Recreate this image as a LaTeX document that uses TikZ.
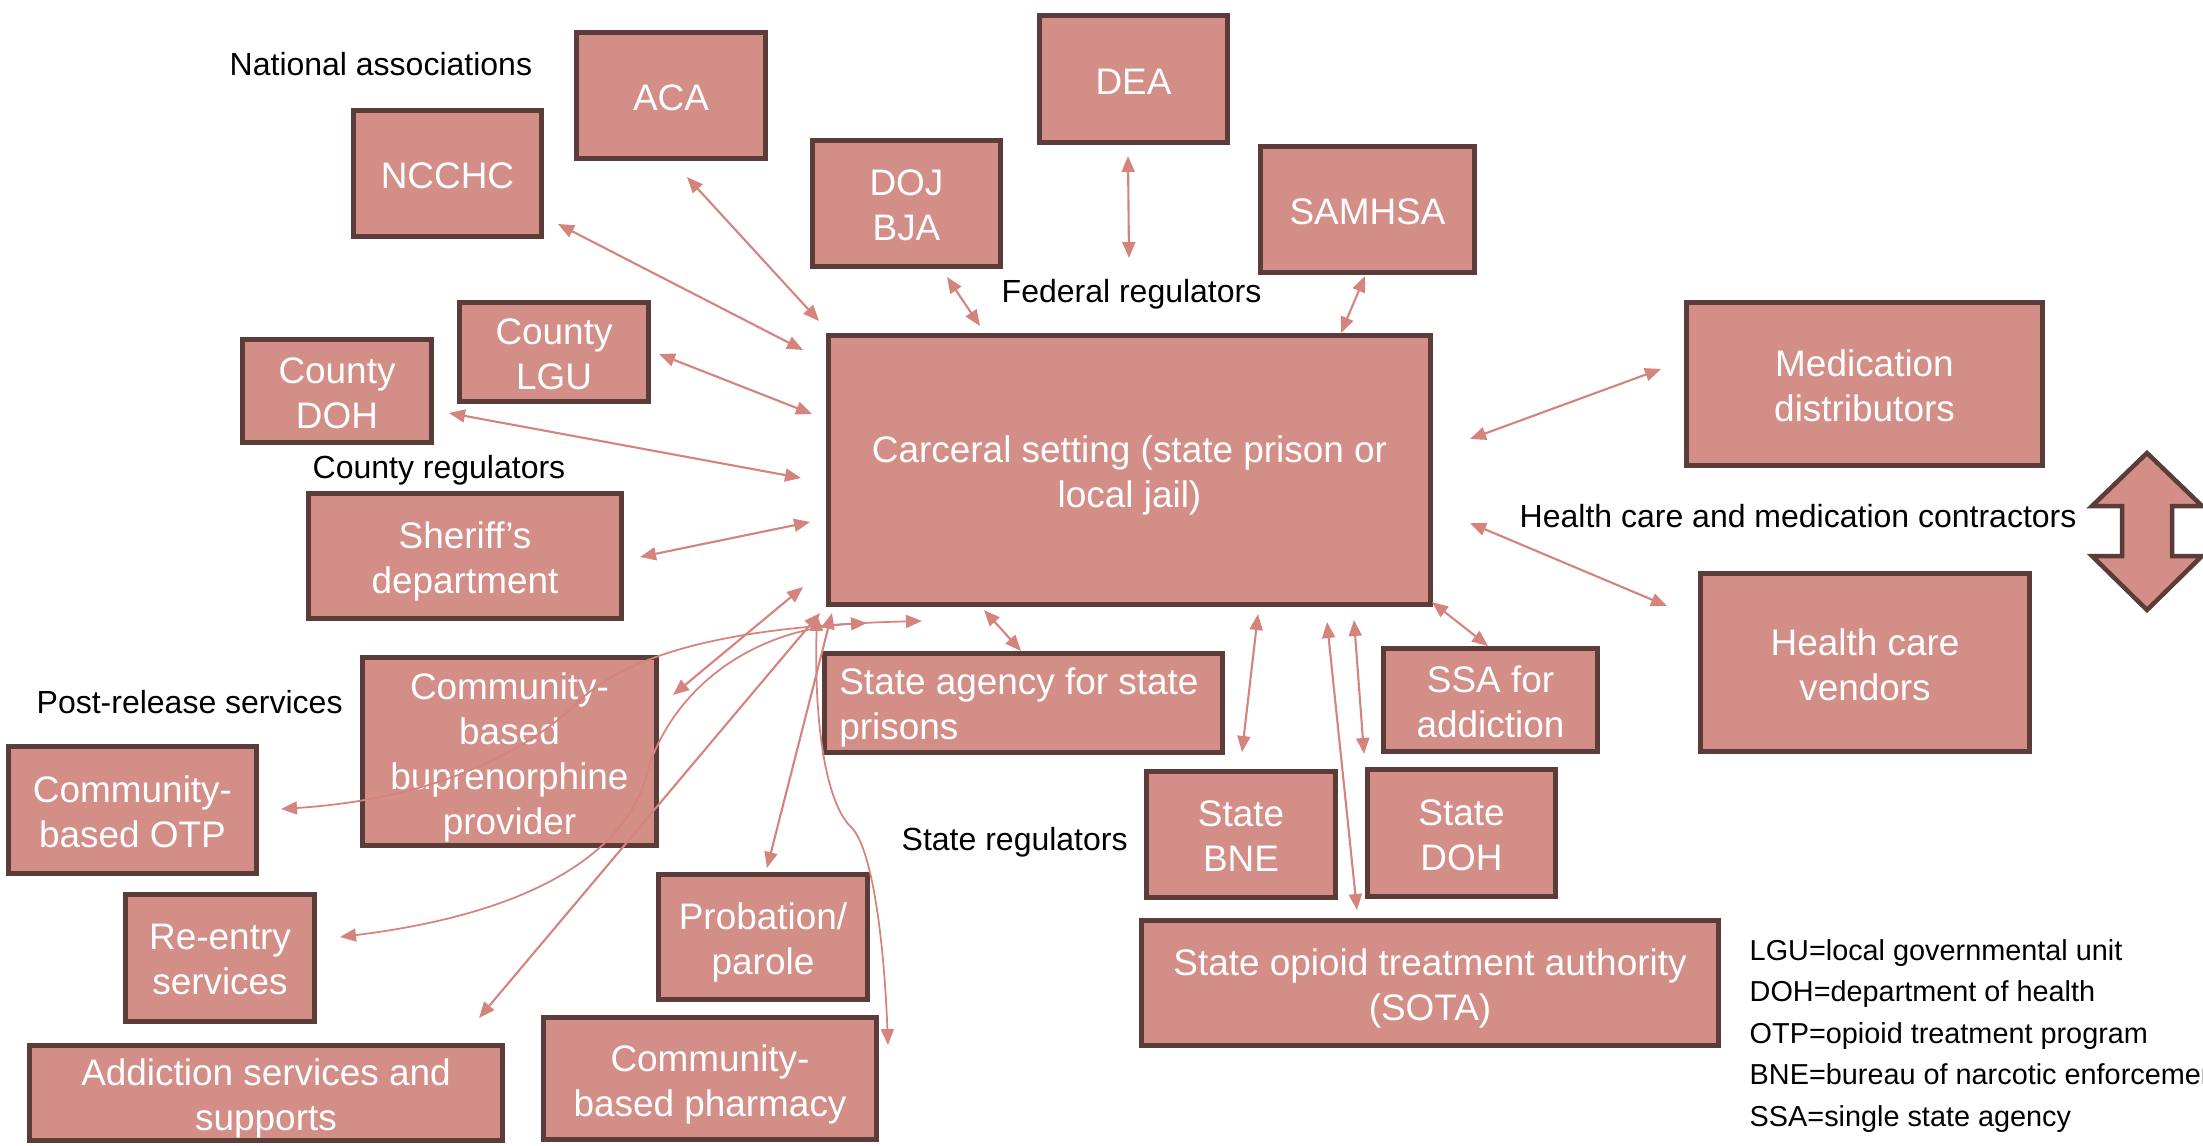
\documentclass[tikz,border=0pt]{standalone}
\usepackage{fontspec}
\setmainfont{Liberation Sans}
\usetikzlibrary{arrows.meta}
\definecolor{boxfill}{RGB}{211,142,135}
\definecolor{boxline}{RGB}{92,60,57}
\definecolor{arrowc}{RGB}{212,132,124}
\newcommand\bxfont{\fontsize{10.5}{12.8}\selectfont}
\newcommand\lbfont{\fontsize{9.1}{11}\selectfont}
\newcommand\lgfont{\fontsize{8.2}{11.8}\selectfont}
\tikzset{
  box/.style={draw=boxline, fill=boxfill, line width=0.055cm, inner sep=0pt},
  bx/.style 2 args={box, minimum width=#1, minimum height=#2},
  btext/.style={text=white, font=\bxfont, align=center, inner sep=0pt, execute at end node={\vphantom{(}}},
  lab/.style={font=\lbfont, text=black, anchor=base west, inner sep=0pt},
  leg/.style={font=\lgfont, text=black, anchor=base west, inner sep=0pt},
  conn/.style={draw=arrowc, line width=0.6pt, {Triangle[length=0.16cm,width=0.13cm]}-{Triangle[length=0.16cm,width=0.13cm]}},
  cconn/.style={conn, line width=0.5pt},
}
% box: width, height, name, position, text
\newcommand\bbox[5]{%
  \node[bx={#1}{#2}] (#3) at #4 {};
  \node[btext] (#3-t) at ([yshift=-0.055cm]#3.center) {#5};}
\begin{document}
\begin{tikzpicture}[x=0.01cm, y=-0.01cm]
\useasboundingbox (0,0) rectangle (2203,1145);
% boxes
\bbox{1.89cm}{1.26cm}{aca}{(671,95.5)}{ACA}
\bbox{1.88cm}{1.26cm}{ncchc}{(447.5,173.5)}{NCCHC}
\bbox{1.88cm}{1.27cm}{dea}{(1133.5,79)}{DEA}
\bbox{1.88cm}{1.26cm}{doj}{(906.5,203.5)}{DOJ\\BJA}
\bbox{2.14cm}{1.26cm}{samhsa}{(1367.5,209.5)}{SAMHSA}
\bbox{6.02cm}{2.69cm}{carc}{(1129.5,470)}{Carceral setting (state prison or\\local jail)}
\bbox{3.56cm}{1.63cm}{med}{(1864.5,384)}{Medication\\distributors}
\bbox{3.29cm}{1.78cm}{hcv}{(1865,662.5)}{Health care\\vendors}
\bbox{1.89cm}{0.99cm}{lgu}{(554,352)}{County\\LGU}
\bbox{1.89cm}{1.03cm}{cdoh}{(337,391)}{County\\DOH}
\bbox{3.13cm}{1.25cm}{sher}{(465,556)}{Sheriff’s\\department}
\bbox{2.94cm}{1.88cm}{bupe}{(509.5,751.5)}{Community-\\based\\buprenorphine\\provider}
\bbox{2.48cm}{1.27cm}{otp}{(132.5,810)}{Community-\\based OTP}
\bbox{1.89cm}{1.27cm}{reent}{(220,958)}{Re-entry\\services}
\bbox{4.73cm}{0.95cm}{addict}{(266,1093)}{Addiction services and\\supports}
\bbox{2.09cm}{1.25cm}{prob}{(763,937)}{Probation/\\parole}
\bbox{3.33cm}{1.22cm}{pharm}{(710,1078.5)}{Community-\\based pharmacy}
\node[bx={3.98cm}{0.99cm}] (sagency) at (1023.5,703) {};
\node[btext, align=left, anchor=west] (sagency-t) at ([xshift=0.17cm, yshift=-0.04cm]sagency.west) {State agency for state\\prisons};
\bbox{2.14cm}{1.03cm}{ssa}{(1490.5,700)}{SSA for\\addiction}
\bbox{1.89cm}{1.26cm}{bne}{(1241,834.5)}{State\\BNE}
\bbox{1.88cm}{1.27cm}{sdoh}{(1461.5,833)}{State\\DOH}
\bbox{5.77cm}{1.25cm}{sota}{(1430,983)}{State opioid treatment authority\\(SOTA)}
% big double arrow
\draw[boxline, fill=boxfill, line width=0.045cm, line join=miter]
  (2147,453) -- (2202,506) -- (2172,506) -- (2172,556) -- (2202,556) -- (2147,610)
  -- (2092,556) -- (2122,556) -- (2122,506) -- (2092,506) -- cycle;
% labels
\node[lab] (lnat) at (229,75) {National associations};
\node[lab] (lfed) at (1001,302) {Federal regulators};
\node[lab] (lcty) at (312,478) {County regulators};
\node[lab] (lhc) at (1519,527) {Health care and medication contractors};
\node[lab] (lpost) at (36,713) {Post-release services};
\node[lab] (lstate) at (901,850) {State regulators};
\node[leg] (g1) at (1749,960) {LGU=local governmental unit};
\node[leg] (g2) at (1749,1001.5) {DOH=department of health};
\node[leg] (g3) at (1749,1043) {OTP=opioid treatment program};
\node[leg] (g4) at (1749,1084) {BNE=bureau of narcotic enforcement};
\node[leg] (g5) at (1749,1126) {SSA=single state agency};
% connector end points
\coordinate (a1) at (558,224);  \coordinate (b1) at (803,350);
\coordinate (a2) at (687,177);  \coordinate (b2) at (819,321);
\coordinate (a3) at (947,277);  \coordinate (b3) at (980,326);
\coordinate (a4) at (1128,156); \coordinate (b4) at (1129,258);
\coordinate (a5) at (1365,276); \coordinate (b5) at (1341,333);
\coordinate (a6) at (1661,369); \coordinate (b6) at (1470,439);
\coordinate (a7) at (1470,523); \coordinate (b7) at (1667,606);
\coordinate (a8) at (659,354);  \coordinate (b8) at (812,414);
\coordinate (a9) at (449,413);  \coordinate (b9) at (801,478);
\coordinate (a10) at (640,557); \coordinate (b10) at (810,522);
\coordinate (a11) at (1432,602); \coordinate (b11) at (1488,646);
\coordinate (a12) at (1258,614); \coordinate (b12) at (1242,752);
\coordinate (a13) at (1354,620); \coordinate (b13) at (1364,754);
\coordinate (a14) at (1327,622); \coordinate (b14) at (1357,910);
\coordinate (a15) at (984,610);  \coordinate (b15) at (1021,651);
\coordinate (a16) at (673,695);  \coordinate (b16) at (803,587);
\coordinate (a17) at (281,809);  \coordinate (b17) at (922,621);
\coordinate (a18) at (340,937);  \coordinate (b18) at (867,623);
\coordinate (a19) at (479,1018); \coordinate (b19) at (820,613);
\coordinate (a20) at (767,868);  \coordinate (b20) at (832,613);
\coordinate (a21) at (817,615);  \coordinate (b21) at (888,1045);
% straight connectors
\foreach \i in {1,...,16,19,20} { \draw[conn] (a\i) -- (b\i); }
% curved connectors
\draw[cconn] (a17) .. controls (420,800) and (520,760) .. (580,700)
  .. controls (640,645) and (760,625) .. (b17);
\draw[cconn] (a18) .. controls (520,915) and (620,860) .. (645,780)
  .. controls (665,700) and (740,630) .. (b18);
\draw[cconn] (a21) .. controls (814,720) and (825,800) .. (850,826)
  .. controls (872,845) and (884,940) .. (b21);
\end{tikzpicture}
\end{document}
